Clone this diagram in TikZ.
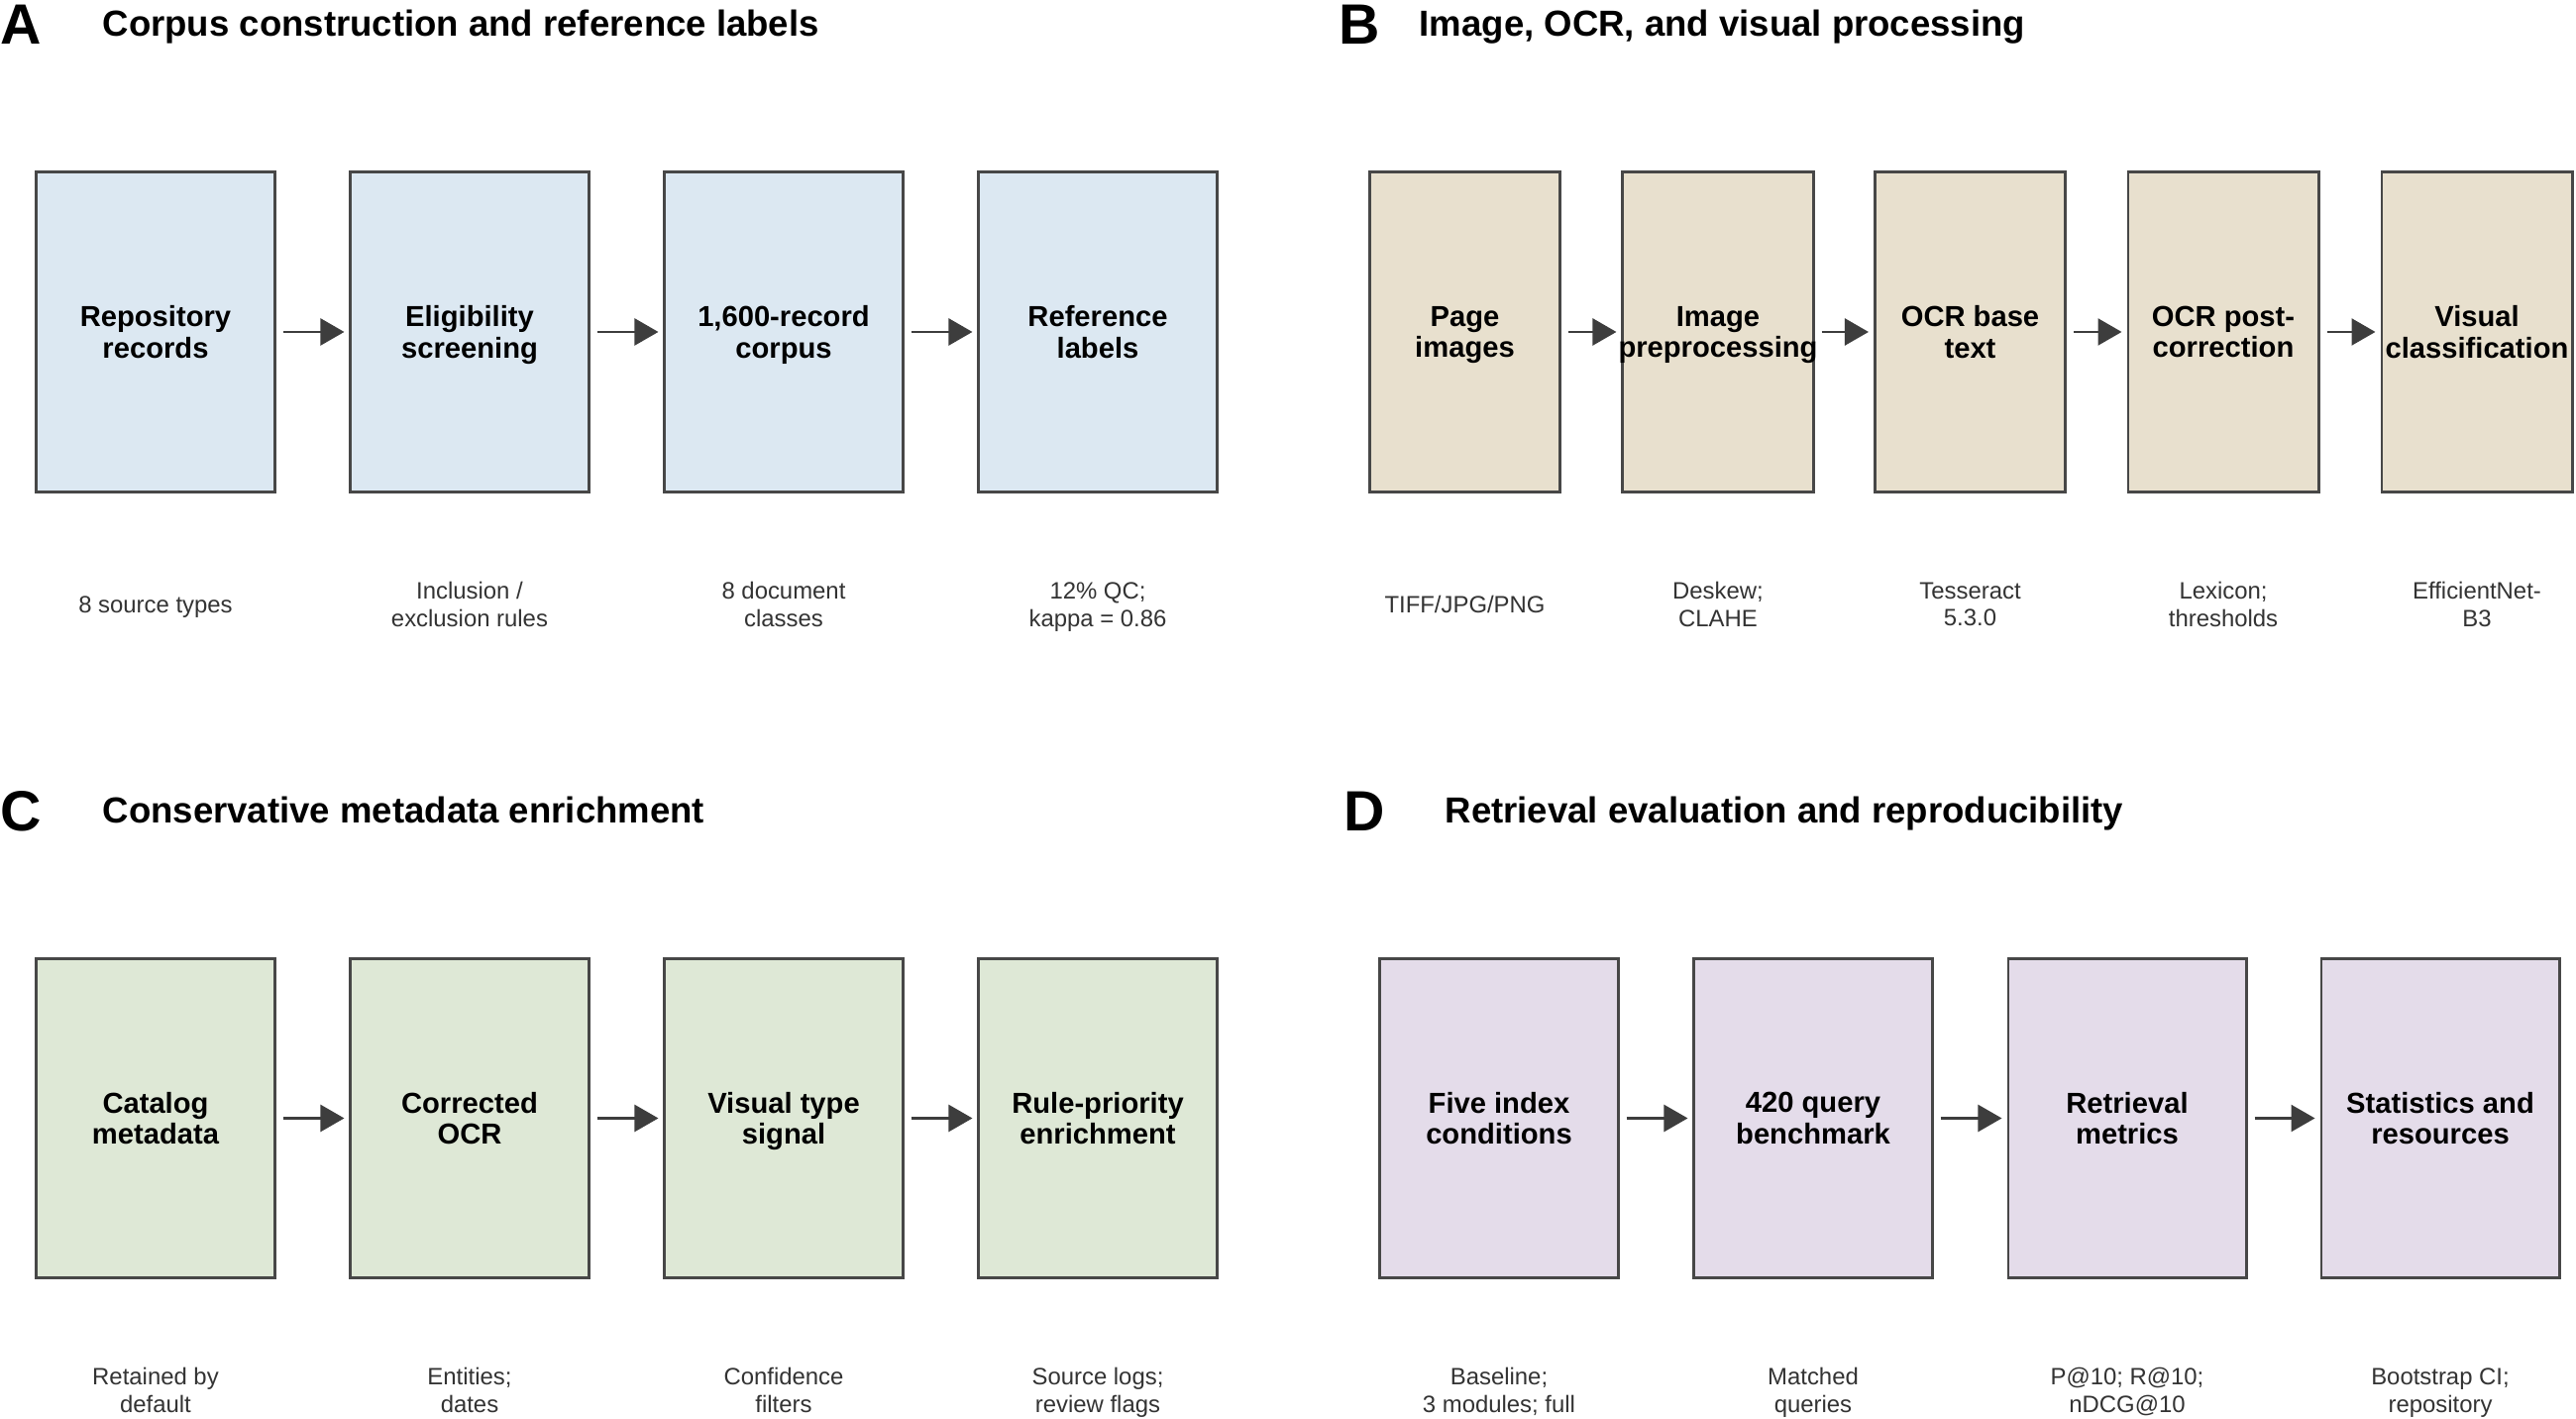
\documentclass[tikz,border=0pt]{standalone}
\usepackage{fontspec}
\setmainfont{Liberation Sans}
\usetikzlibrary{arrows.meta}

\definecolor{fillA}{HTML}{DCE8F2}
\definecolor{fillB}{HTML}{E8E0CE}
\definecolor{fillC}{HTML}{DEE8D6}
\definecolor{fillD}{HTML}{E4DCEA}
\definecolor{edgegray}{HTML}{474747}
\definecolor{arrowgray}{HTML}{3D3D3D}
\definecolor{notegray}{HTML}{333333}

\begin{document}
\begin{tikzpicture}[scale=1]

	\tikzstyle stage=[draw=edgegray, line width=0.75pt, minimum width=2.404cm, minimum height=3.224cm, inner sep=0pt, align=center, text depth=0pt, font=\fontsize{8.3}{9}\selectfont\bfseries];
	\tikzstyle narrow stage=[stage, minimum width=1.924cm];
	\tikzstyle note=[align=center, text=notegray, inner sep=0pt, text depth=0pt, font=\fontsize{6.8}{7.8}\selectfont];
	\tikzstyle flow=[draw=arrowgray, line width=0.7pt, -{Triangle[length=0.24cm,width=0.27cm]}, shorten <=0.07cm, shorten >=0.05cm];
	\tikzstyle panel=[anchor=base west, inner sep=0pt, font=\fontsize{16.3}{18}\selectfont\bfseries];
	\tikzstyle heading=[anchor=base west, inner sep=0pt, font=\fontsize{10.4}{12}\selectfont\bfseries];

	\useasboundingbox (0,0) rectangle (26,14.32);

	% A
	\node[panel] (pa) at (0,13.87) {A};
	\node[heading] (ta) at (1.03,13.95) {Corpus construction and reference labels};
	\node[stage, fill=fillA] (a1) at (1.57,10.97) {Repository\\records};
	\node[stage, fill=fillA] (a2) at (4.74,10.97) {Eligibility\\screening};
	\node[stage, fill=fillA] (a3) at (7.91,10.97) {1,600-record\\corpus};
	\node[stage, fill=fillA] (a4) at (11.08,10.97) {Reference\\labels};
	\draw[flow] (a1) -- (a2);
	\draw[flow] (a2) -- (a3);
	\draw[flow] (a3) -- (a4);
	\node[note] (a1n) at (1.57,8.22) {8 source types};
	\node[note] (a2n) at (4.74,8.22) {Inclusion /\\exclusion rules};
	\node[note] (a3n) at (7.91,8.22) {8 document\\classes};
	\node[note] (a4n) at (11.08,8.22) {12\% QC;\\kappa = 0.86};

	% B
	\node[panel] (pb) at (13.51,13.87) {B};
	\node[heading] (tb) at (14.32,13.95) {Image, OCR, and visual processing};
	\node[narrow stage, fill=fillB] (b1) at (14.785,10.97) {Page\\images};
	\node[narrow stage, fill=fillB] (b2) at (17.34,10.97) {\makebox[0pt]{Image}\\\makebox[0pt]{preprocessing}};
	\node[narrow stage, fill=fillB] (b3) at (19.885,10.97) {OCR base\\text};
	\node[narrow stage, fill=fillB] (b4) at (22.44,10.97) {OCR post-\\correction};
	\node[narrow stage, fill=fillB] (b5) at (25.0,10.97) {\makebox[0pt]{Visual}\\\makebox[0pt]{classification}};
	\draw[flow] (b1) -- (b2);
	\draw[flow] (b2) -- (b3);
	\draw[flow] (b3) -- (b4);
	\draw[flow] (b4) -- (b5);
	\node[note] (b1n) at (14.785,8.22) {TIFF/JPG/PNG};
	\node[note] (b2n) at (17.34,8.22) {Deskew;\\CLAHE};
	\node[note] (b3n) at (19.885,8.22) {Tesseract\\5.3.0};
	\node[note] (b4n) at (22.44,8.22) {Lexicon;\\thresholds};
	\node[note] (b5n) at (25.0,8.22) {EfficientNet-\\B3};

	% C
	\node[panel] (pc) at (0,5.93) {C};
	\node[heading] (tc) at (1.03,6.01) {Conservative metadata enrichment};
	\node[stage, fill=fillC] (c1) at (1.57,3.035) {Catalog\\metadata};
	\node[stage, fill=fillC] (c2) at (4.74,3.035) {Corrected\\OCR};
	\node[stage, fill=fillC] (c3) at (7.91,3.035) {Visual type\\signal};
	\node[stage, fill=fillC] (c4) at (11.08,3.035) {Rule-priority\\enrichment};
	\draw[flow] (c1) -- (c2);
	\draw[flow] (c2) -- (c3);
	\draw[flow] (c3) -- (c4);
	\node[note] (c1n) at (1.57,0.29) {Retained by\\default};
	\node[note] (c2n) at (4.74,0.29) {Entities;\\dates};
	\node[note] (c3n) at (7.91,0.29) {Confidence\\filters};
	\node[note] (c4n) at (11.08,0.29) {Source logs;\\review flags};

	% D
	\node[panel] (pd) at (13.56,5.93) {D};
	\node[heading] (td) at (14.58,6.01) {Retrieval evaluation and reproducibility};
	\node[stage, fill=fillD] (d1) at (15.13,3.035) {Five index\\conditions};
	\node[stage, fill=fillD] (d2) at (18.30,3.035) {420 query\\benchmark};
	\node[stage, fill=fillD] (d3) at (21.47,3.035) {Retrieval\\metrics};
	\node[stage, fill=fillD] (d4) at (24.63,3.035) {Statistics and\\resources};
	\draw[flow] (d1) -- (d2);
	\draw[flow] (d2) -- (d3);
	\draw[flow] (d3) -- (d4);
	\node[note] (d1n) at (15.13,0.29) {Baseline;\\3 modules; full};
	\node[note] (d2n) at (18.30,0.29) {Matched\\queries};
	\node[note] (d3n) at (21.47,0.29) {P@10; R@10;\\nDCG@10};
	\node[note] (d4n) at (24.63,0.29) {Bootstrap CI;\\repository};

\end{tikzpicture}
\end{document}
